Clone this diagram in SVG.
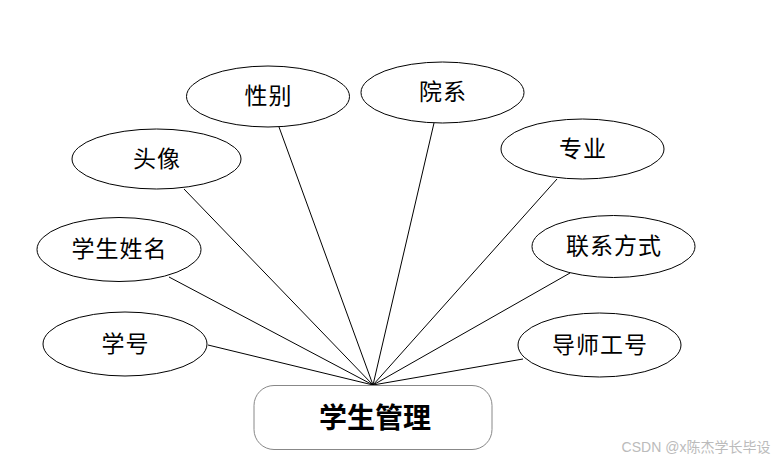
<svg xmlns="http://www.w3.org/2000/svg" width="777" height="461" viewBox="0 0 777 461">
<style>
.n ellipse{fill:#fff;stroke:#000;stroke-width:1}
.n text{font-family:"Liberation Serif","Noto Sans CJK SC",serif;font-size:23px;letter-spacing:1px;text-anchor:middle;dominant-baseline:central;fill:#000}
#edges line{stroke:#000;stroke-width:1}
</style>
<rect width="777" height="461" fill="#fff"/>
<g id="edges">
<line x1="208" y1="345" x2="373" y2="385"/>
<line x1="169" y1="277" x2="373" y2="385"/>
<line x1="184" y1="189" x2="373" y2="385"/>
<line x1="279" y1="127" x2="373" y2="385"/>
<line x1="434" y1="123" x2="373" y2="385"/>
<line x1="557" y1="179" x2="373" y2="385"/>
<line x1="570" y1="273" x2="373" y2="385"/>
<line x1="523" y1="359" x2="373" y2="385"/>
</g>
<g id="xh" class="n"><ellipse cx="125" cy="344" rx="82" ry="32"/><text x="125.5" y="344">学号</text></g>
<g id="xsxm" class="n"><ellipse cx="119" cy="249.5" rx="82" ry="32"/><text x="119.5" y="249.5">学生姓名</text></g>
<g id="tx" class="n"><ellipse cx="156.5" cy="159" rx="84.5" ry="30"/><text x="157" y="159">头像</text></g>
<g id="xb" class="n"><ellipse cx="268" cy="96.5" rx="81.5" ry="30.5"/><text x="268.5" y="96.5">性别</text></g>
<g id="yx" class="n"><ellipse cx="442.5" cy="92.5" rx="81.5" ry="30.5"/><text x="443" y="92.5">院系</text></g>
<g id="zy" class="n"><ellipse cx="582.5" cy="149" rx="81.5" ry="30"/><text x="583" y="149">专业</text></g>
<g id="lxfs" class="n"><ellipse cx="613.5" cy="246.5" rx="81.5" ry="31"/><text x="614" y="246.5">联系方式</text></g>
<g id="dsgh" class="n"><ellipse cx="599.5" cy="345" rx="81.5" ry="32"/><text x="600" y="345">导师工号</text></g>
<g id="main">
<rect x="254" y="385.5" width="238" height="64" rx="20" ry="20" fill="#fff" stroke="#888" stroke-width="1"/>
<text x="375" y="418" font-family="'Liberation Serif','Noto Sans CJK SC',serif" font-size="28" font-weight="bold" text-anchor="middle" dominant-baseline="central">学生管理</text>
</g>
<text x="696" y="447" font-family="'Liberation Sans','Noto Sans CJK SC',sans-serif" font-size="14" fill="#bbb" text-anchor="middle" dominant-baseline="central">CSDN @x陈杰学长毕设</text>
</svg>
